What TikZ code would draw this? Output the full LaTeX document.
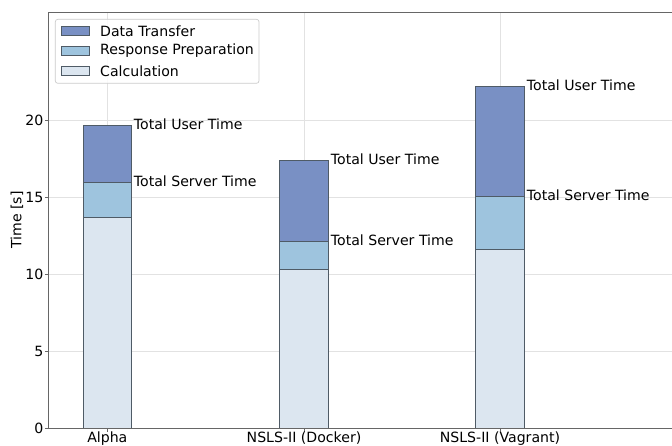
\documentclass[tikz,border=0pt]{standalone}
\usepackage{fontspec}
\setmainfont{DejaVu Sans}
\definecolor{cdt}{HTML}{7990C4}
\definecolor{crp}{HTML}{9EC4DE}
\definecolor{cca}{HTML}{DCE6F0}
\definecolor{cedge}{HTML}{4F5B66}
\definecolor{cgrid}{HTML}{E2E2E2}
\definecolor{cspine}{HTML}{666666}
\begin{document}
\begin{tikzpicture}[x=1pt,y=-1pt,
  txt/.style={font=\fontsize{14.1}{16}\selectfont,inner sep=1.5pt,text=black},
  bar/.style={draw=cedge,line width=0.8pt},
  grid/.style={draw=cgrid,line width=0.7pt},
  spine/.style={draw=cspine,line width=0.9pt},
  lpatch/.style={draw=cedge,line width=0.7pt}]
\useasboundingbox (0,0) rectangle (672,445);
% grid
\foreach \gy in {351,274,197,120} \draw[grid] (48.3,\gy) -- (672,\gy);
\foreach \gx in {107.3,304,500} \draw[grid] (\gx,12.3) -- (\gx,428);
% bars: x left, x right, calc top, resp top, user top
\foreach \xl/\xr/\ca/\rp/\us [count=\i] in {83/131.7/217.7/182.7/125.7, 279.3/328.7/269.3/241.7/160, 475.3/524.7/249/196.7/86.7}{
  \filldraw[bar,fill=cca] (\xl,428) rectangle (\xr,\ca);
  \filldraw[bar,fill=crp] (\xl,\ca) rectangle (\xr,\rp);
  \filldraw[bar,fill=cdt] (\xl,\rp) rectangle (\xr,\us);
  \node[txt,anchor=west] (u\i) at (\xr+0.5,\us-1) {Total User Time};
  \node[txt,anchor=west] (s\i) at (\xr+0.5,\rp-1) {Total Server Time};
}
% spines
\draw[spine] (48.3,12.3) -- (672,12.3);
\draw[spine] (48.3,12.3) -- (48.3,428) -- (672,428);
% y ticks
\foreach \v/\gy in {0/428,5/351,10/274,15/197,20/120}{
  \draw[spine,line width=0.7pt] (44.8,\gy) -- (48.3,\gy);
  \node[txt,anchor=east,inner sep=0pt] (yt\v) at (43.5,\gy) {\v};
}
% x ticks
\foreach \gx/\lab [count=\j] in {107.3/Alpha,304/NSLS-II (Docker),500/NSLS-II (Vagrant)}{
  \draw[spine,line width=0.7pt] (\gx,428) -- (\gx,431.5);
  \node[txt,anchor=north,inner sep=0pt] (xt\j) at (\gx,431.5) {\lab};
}
\node[txt,rotate=90,inner sep=0pt] (ylab) at (17,220) {Time [s]};
% legend
\draw[draw=cgrid!90!black,fill=white,fill opacity=0.85,rounded corners=2.5pt,line width=0.7pt] (55.3,19.3) rectangle (259,83.3);
\foreach \c/\ly/\lt [count=\k] in {cdt/31/Data Transfer,crp/51/Response Preparation,cca/71/Calculation}{
  \filldraw[lpatch,fill=\c] (61,\ly-4.5) rectangle (89,\ly+4.5);
  \node[txt,anchor=west,inner sep=0pt] (lg\k) at (100,\ly) {\lt};
}
\end{tikzpicture}
\end{document}
